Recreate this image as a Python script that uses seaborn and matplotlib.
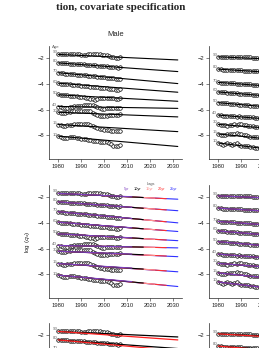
import matplotlib
matplotlib.use('Agg')
import matplotlib.pyplot as plt
import seaborn as sns
from matplotlib.lines import Line2D

sns.set_theme(style='ticks')
plt.rcParams['font.family'] = ['Liberation Sans', 'DejaVu Sans']

years = list(range(1980, 2008))
ages = ['90', '80', '70', '60', '50', '40', '30', '15', '10']

# observed log mortality, 1980-2007
male_obs = {
    '90': [-1.68, -1.72, -1.72, -1.71, -1.70, -1.71, -1.70, -1.70, -1.69, -1.72, -1.73, -1.74, -1.73, -1.72,
           -1.71, -1.70, -1.70, -1.71, -1.72, -1.74, -1.76, -1.80, -1.84, -1.90, -1.95, -1.98, -1.97, -1.93],
    '80': [-2.37, -2.40, -2.41, -2.40, -2.42, -2.43, -2.44, -2.44, -2.45, -2.47, -2.49, -2.50, -2.51, -2.52,
           -2.53, -2.55, -2.56, -2.58, -2.59, -2.61, -2.62, -2.64, -2.66, -2.68, -2.70, -2.72, -2.74, -2.73],
    '70': [-3.14, -3.17, -3.19, -3.20, -3.21, -3.23, -3.25, -3.26, -3.28, -3.30, -3.32, -3.34, -3.35, -3.36,
           -3.38, -3.40, -3.42, -3.44, -3.46, -3.48, -3.50, -3.52, -3.54, -3.56, -3.58, -3.61, -3.63, -3.65],
    '60': [-3.96, -3.98, -4.00, -4.02, -4.03, -4.05, -4.07, -4.09, -4.10, -4.12, -4.14, -4.16, -4.18, -4.20,
           -4.22, -4.24, -4.26, -4.28, -4.30, -4.32, -4.34, -4.36, -4.38, -4.40, -4.43, -4.46, -4.47, -4.38],
    '50': [-4.80, -4.83, -4.86, -4.88, -4.90, -4.92, -4.94, -4.96, -4.97, -4.99, -5.01, -5.03, -5.06, -5.10,
           -5.15, -5.20, -5.23, -5.20, -5.12, -5.08, -5.07, -5.09, -5.10, -5.12, -5.13, -5.14, -5.14, -5.13],
    '40': [-5.76, -5.80, -5.84, -5.86, -5.85, -5.82, -5.78, -5.75, -5.72, -5.70, -5.68, -5.66, -5.64, -5.63,
           -5.62, -5.64, -5.70, -5.80, -5.90, -5.95, -5.93, -5.88, -5.86, -5.88, -5.90, -5.90, -5.89, -5.88],
    '30': [-6.20, -6.25, -6.28, -6.25, -6.20, -6.15, -6.12, -6.10, -6.10, -6.11, -6.12, -6.10, -6.09, -6.10,
           -6.14, -6.22, -6.35, -6.45, -6.50, -6.52, -6.50, -6.46, -6.45, -6.44, -6.43, -6.42, -6.38, -6.32],
    '15': [-7.15, -7.22, -7.25, -7.24, -7.20, -7.18, -7.16, -7.14, -7.12, -7.13, -7.12, -7.10, -7.11, -7.14,
           -7.20, -7.28, -7.36, -7.42, -7.48, -7.52, -7.55, -7.58, -7.60, -7.62, -7.63, -7.65, -7.66, -7.64],
    '10': [-8.05, -8.10, -8.18, -8.20, -8.17, -8.15, -8.12, -8.10, -8.18, -8.22, -8.25, -8.28, -8.30, -8.33,
           -8.38, -8.40, -8.42, -8.45, -8.48, -8.50, -8.50, -8.48, -8.55, -8.65, -8.78, -8.82, -8.80, -8.72],
}

female_obs = {
    '90': [-1.90, -1.93, -1.92, -1.91, -1.92, -1.92, -1.93, -1.92, -1.93, -1.94, -1.95, -1.95, -1.96, -1.95,
           -1.96, -1.97, -1.98, -1.98, -1.99, -2.00, -2.01, -2.02, -2.04, -2.06, -2.09, -2.12, -2.13, -2.11],
    '80': [-2.85, -2.88, -2.89, -2.89, -2.90, -2.91, -2.92, -2.92, -2.94, -2.95, -2.96, -2.97, -2.98, -2.99,
           -3.00, -3.01, -3.02, -3.03, -3.04, -3.05, -3.06, -3.07, -3.09, -3.11, -3.13, -3.15, -3.17, -3.16],
    '70': [-3.88, -3.91, -3.92, -3.93, -3.94, -3.95, -3.96, -3.97, -3.98, -3.99, -4.00, -4.02, -4.03, -4.04,
           -4.05, -4.06, -4.07, -4.09, -4.10, -4.11, -4.12, -4.14, -4.15, -4.17, -4.19, -4.21, -4.23, -4.24],
    '60': [-4.62, -4.65, -4.66, -4.67, -4.68, -4.70, -4.71, -4.72, -4.74, -4.75, -4.76, -4.78, -4.79, -4.80,
           -4.82, -4.83, -4.84, -4.86, -4.87, -4.89, -4.90, -4.92, -4.93, -4.95, -4.97, -4.99, -5.01, -5.02],
    '50': [-5.45, -5.48, -5.50, -5.51, -5.52, -5.53, -5.55, -5.57, -5.58, -5.60, -5.62, -5.63, -5.65, -5.66,
           -5.68, -5.70, -5.71, -5.72, -5.74, -5.75, -5.77, -5.78, -5.80, -5.81, -5.83, -5.85, -5.86, -5.87],
    '40': [-6.40, -6.45, -6.48, -6.47, -6.50, -6.52, -6.48, -6.50, -6.53, -6.52, -6.55, -6.54, -6.56, -6.55,
           -6.58, -6.60, -6.62, -6.65, -6.66, -6.68, -6.70, -6.69, -6.72, -6.74, -6.75, -6.77, -6.78, -6.80],
    '30': [-7.10, -7.18, -7.22, -7.20, -7.25, -7.20, -7.15, -7.12, -7.15, -7.10, -7.14, -7.18, -7.22, -7.25,
           -7.28, -7.30, -7.32, -7.35, -7.38, -7.36, -7.40, -7.42, -7.41, -7.44, -7.45, -7.47, -7.46, -7.48],
    '15': [-7.85, -7.95, -8.00, -7.98, -7.90, -7.85, -7.92, -7.88, -7.80, -7.85, -7.90, -7.95, -8.00, -8.05,
           -8.08, -8.10, -8.12, -8.15, -8.18, -8.20, -8.22, -8.24, -8.25, -8.27, -8.30, -8.32, -8.33, -8.35],
    '10': [-8.55, -8.62, -8.70, -8.65, -8.58, -8.65, -8.72, -8.68, -8.60, -8.70, -8.78, -8.82, -8.85, -8.80,
           -8.88, -8.90, -8.93, -8.95, -8.97, -9.00, -9.02, -9.05, -9.06, -9.08, -9.10, -9.12, -9.14, -9.15],
}

# fitted + forecast lines (1980 -> 2032)
fit_years = [1980, 2032]
male_fit_start = [-1.72, -2.38, -3.14, -3.95, -4.85, -5.75, -6.20, -7.15, -8.05]
male_fit_end = [-2.15, -3.05, -3.98, -4.65, -5.35, -5.90, -6.56, -7.70, -8.85]
female_fit_start = [-1.91, -2.86, -3.89, -4.63, -5.46, -6.42, -7.14, -7.88, -8.58]
female_fit_end = [-2.30, -3.45, -4.57, -5.40, -6.26, -7.17, -7.84, -8.80, -9.70]

# lag forecasts: value at the end year of each lag
lags = ['5yr', '10yr', '15yr', '20yr', '25yr']
lag_end_years = [2012, 2017, 2022, 2027, 2032]
lag_colors = ['#8040c0', '#000000', '#ff9090', '#ff3030', '#3030ff']
male_lag_end = {
    '5yr':  [-1.98, -2.80, -3.66, -4.38, -5.16, -5.86, -6.42, -7.50, -8.55],
    '10yr': [-2.04, -2.87, -3.75, -4.46, -5.22, -5.88, -6.47, -7.58, -8.66],
    '15yr': [-2.08, -2.93, -3.84, -4.53, -5.28, -5.90, -6.52, -7.65, -8.75],
    '20yr': [-2.13, -3.00, -3.92, -4.60, -5.33, -5.92, -6.57, -7.72, -8.84],
    '25yr': [-2.17, -3.06, -4.00, -4.67, -5.38, -5.94, -6.62, -7.79, -8.93],
}

# alternative specification (red) in bottom row
male_red_end = [-2.38, -3.22, -4.15, -4.82, -5.50, -6.05, -6.75, -7.90, -9.05]
female_red_end = [-2.45, -3.60, -4.72, -5.55, -6.40, -7.30, -7.98, -8.95, -9.80]


def draw_obs(ax, obs, show_ages=True):
    for a in ages:
        sns.scatterplot(x=years, y=obs[a], ax=ax, marker='o', s=6.5, color='white',
                        edgecolor='black', linewidth=0.5, zorder=2)
        if show_ages:
            ax.text(1979.6, obs[a][0] + 0.12, a, ha='right', va='center', fontsize=3.2, color='#666666')


def style_axes(ax):
    ax.set_xlim(1976, 2034)
    ax.set_ylim(-9.82, -1.07)
    ax.set_xticks([1980, 1990, 2000, 2010, 2020, 2030])
    ax.set_yticks([-2, -4, -6, -8])
    ax.tick_params(labelsize=4.2, length=2, width=0.4, pad=1.5, colors='#222222')
    for s in ax.spines.values():
        s.set_linewidth(0.5)
    sns.despine(ax=ax)
    ax.set_xlabel('')
    ax.set_ylabel('')


fig = plt.figure(figsize=(2.59, 3.48), dpi=100)
W = 133.4 / 259
H = 113 / 348
col_x = [49 / 259, 209 / 259]
row_y = [1 - 159 / 348, 1 - 298 / 348, 1 - 436 / 348]

axes = [[fig.add_axes([cx, ry, W, H]) for cx in col_x] for ry in row_y]

# row 1: covariate model
for j, (obs, st, en) in enumerate([(male_obs, male_fit_start, male_fit_end),
                                   (female_obs, female_fit_start, female_fit_end)]):
    ax = axes[0][j]
    draw_obs(ax, obs)
    for i in range(len(ages)):
        sns.lineplot(x=fit_years, y=[st[i], en[i]], ax=ax, color='black', linewidth=0.8, zorder=3)
    style_axes(ax)
axes[0][0].set_title('Male', fontsize=5.5, pad=7)
axes[0][1].set_title('Female', fontsize=5.5, pad=7)
axes[0][0].text(1977.5, -1.2, 'Age', fontsize=3.2, color='#666666')

# row 2: forecasts by lag
ax = axes[1][0]
draw_obs(ax, male_obs)
for k in range(len(lags) - 1, -1, -1):
    for i in range(len(ages)):
        sns.lineplot(x=[1980, lag_end_years[k]], y=[male_fit_start[i], male_lag_end[lags[k]][i]],
                     ax=ax, color=lag_colors[k], linewidth=0.8, zorder=3)
style_axes(ax)
ax.set_ylabel(r'log ($q_x$)', fontsize=4.5, labelpad=4)
handles = [Line2D([], [], color=c) for c in lag_colors]
leg = ax.legend(handles, lags, ncol=5, title='Lags', fontsize=2.8, title_fontsize=2.8,
                handlelength=0, handletextpad=0, columnspacing=1.2, frameon=False,
                labelcolor=lag_colors, loc='upper right', bbox_to_anchor=(0.98, 1.04),
                borderpad=0, labelspacing=0.1)
leg.get_title().set_color('#555555')

ax = axes[1][1]
draw_obs(ax, female_obs)
for k in range(len(lags) - 1, -1, -1):
    for i in range(len(ages)):
        sns.lineplot(x=fit_years, y=[female_fit_start[i], female_fit_end[i]],
                     ax=ax, color=lag_colors[k], linewidth=0.8, zorder=3)
style_axes(ax)

# row 3: two specifications
for j, (obs, st, en, red) in enumerate([(male_obs, male_fit_start, male_fit_end, male_red_end),
                                        (female_obs, female_fit_start, female_fit_end, female_red_end)]):
    ax = axes[2][j]
    draw_obs(ax, obs)
    for i in range(len(ages)):
        sns.lineplot(x=fit_years, y=[st[i], en[i]], ax=ax, color='black', linewidth=0.9, zorder=3)
        sns.lineplot(x=fit_years, y=[st[i], red[i]], ax=ax, color='#ff2020', linewidth=0.9, zorder=3)
    style_axes(ax)

fig.text(121 / 259, 1 - 9.5 / 348, 'tion, covariate specification', ha='center', va='baseline',
         fontsize=8, fontweight='bold', family=['Liberation Serif', 'DejaVu Serif'])

fig.savefig('out.png', dpi=100)
